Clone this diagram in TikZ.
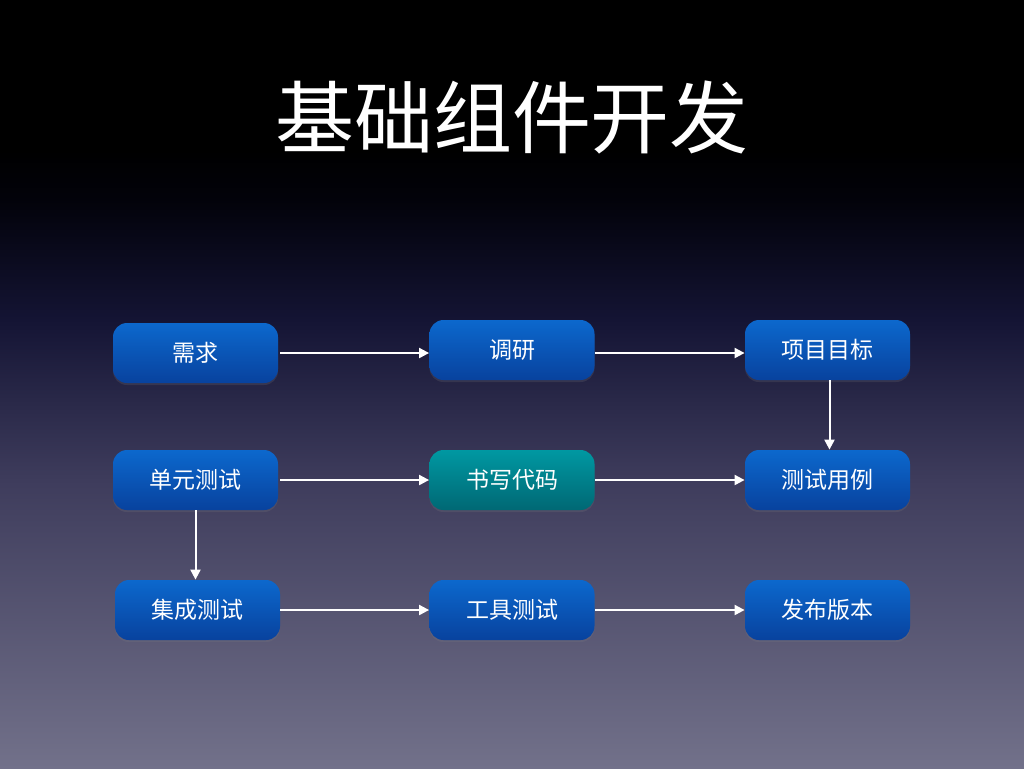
\documentclass[tikz,border=0pt]{standalone}
\usepackage{fontspec}
\newfontfamily\cjk{Noto Sans CJK SC}
\usetikzlibrary{arrows.meta,shadows}
\definecolor{bg0}{RGB}{0,0,0}
\definecolor{bg1}{RGB}{2,2,10}
\definecolor{bg2}{RGB}{20,20,52}
\definecolor{bg3}{RGB}{62,60,92}
\definecolor{bg4}{RGB}{114,113,138}
\definecolor{btop}{RGB}{12,104,205}
\definecolor{bbot}{RGB}{8,66,158}
\definecolor{ttop}{RGB}{0,152,162}
\definecolor{tbot}{RGB}{0,104,116}
\tikzset{
  box/.style={rounded corners=7pt, minimum width=82.5pt, minimum height=30pt,
    top color=btop, bottom color=bbot, text=white,
    font=\cjk\fontsize{11.5pt}{13pt}\selectfont, inner sep=0pt,
    drop shadow={opacity=0.2, shadow xshift=0pt, shadow yshift=-1pt}},
  tealbox/.style={box, top color=ttop, bottom color=tbot},
  arr/.style={draw=white, line width=1pt, -{Triangle[length=5pt,width=5pt]}}
}
\begin{document}
\begin{tikzpicture}[x=0.5pt,y=-0.5pt]
\useasboundingbox (0,0) rectangle (1024,768);
\shade[top color=bg0, bottom color=bg0] (0,0) rectangle (1024,150);
\shade[top color=bg0, bottom color=bg1] (0,149.5) rectangle (1024,200);
\shade[top color=bg1, bottom color=bg2] (0,199.5) rectangle (1024,320);
\shade[top color=bg2, bottom color=bg3] (0,319.5) rectangle (1024,480);
\shade[top color=bg3, bottom color=bg4] (0,479.5) rectangle (1024,768);

\node[text=white, font=\cjk\fontsize{39.5pt}{44pt}\selectfont] (title) at (512,117) {基础组件开发};

\node[box] (xq) at (195.5,353) {需求};
\node[box] (dy) at (512,350) {调研};
\node[box] (xm) at (827.5,350) {项目目标};
\node[box] (dc) at (195.5,480) {单元测试};
\node[tealbox] (sx) at (512,480) {书写代码};
\node[box] (cs) at (827.5,480) {测试用例};
\node[box] (jc) at (197.5,610) {集成测试};
\node[box] (gj) at (512,610) {工具测试};
\node[box] (fb) at (827.5,610) {发布版本};

\draw[arr] ([xshift=1pt]xq.east) -- (dy.west |- xq.east);
\draw[arr] (dy.east |- xq.east) -- (xm.west |- xq.east);
\draw[arr] ([xshift=1pt]xm.south) -- ([xshift=1pt]cs.north);
\draw[arr] ([xshift=1pt]dc.east) -- (sx.west);
\draw[arr] (sx.east) -- (cs.west);
\draw[arr] (dc.south) -- (dc.south |- jc.north);
\draw[arr] (jc.east) -- (gj.west);
\draw[arr] (gj.east) -- (fb.west);
\end{tikzpicture}
\end{document}
